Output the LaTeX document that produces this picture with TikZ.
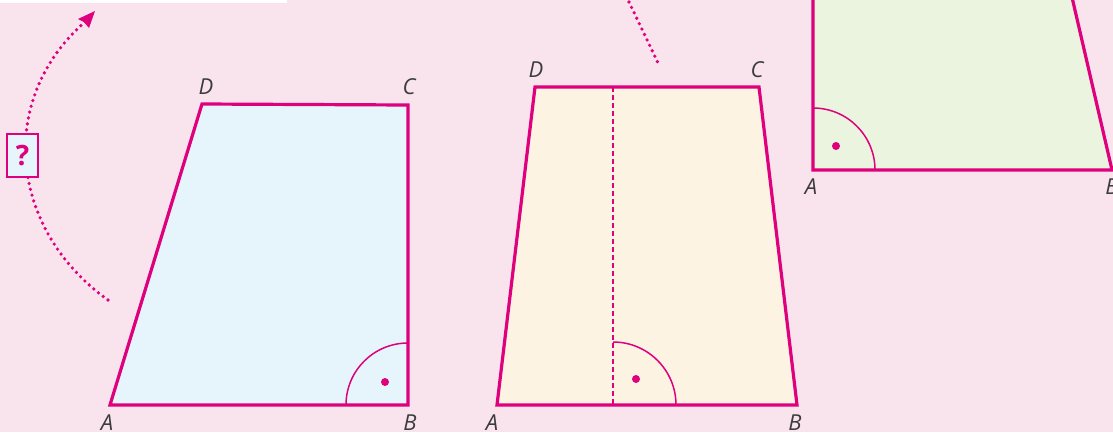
\documentclass[tikz,border=0pt]{standalone}
\usepackage{fontspec}
\setsansfont{Open Sans}
\usetikzlibrary{arrows.meta}
\definecolor{bgpink}{RGB}{249,228,238}
\definecolor{mag}{RGB}{222,0,124}
\definecolor{fblue}{RGB}{230,245,252}
\definecolor{fcream}{RGB}{253,243,227}
\definecolor{fgreen}{RGB}{234,244,223}
\definecolor{labgray}{RGB}{60,60,60}
\tikzset{
  edge/.style={draw=mag, line width=3.2pt, line join=miter},
  anglearc/.style={draw=mag, line width=1.5pt},
  angdot/.style={circle, fill=mag, inner sep=0pt, minimum size=8pt},
  lab/.style={font=\sffamily\itshape\fontsize{22}{24}\selectfont, text=labgray, inner sep=0pt},
  dotline/.style={draw=mag, line width=3.6pt, line cap=round, dash pattern=on 0pt off 6pt},
}
\begin{document}
\begin{tikzpicture}[x=1pt,y=-1pt]
\useasboundingbox (0,0) rectangle (1113,432);
\clip (0,0) rectangle (1113,432);
\fill[bgpink] (0,0) rectangle (1113,432);
\fill[white] (0,0) rectangle (287,2.5);

% shape 1
\coordinate (A1) at (110,405);
\coordinate (B1) at (408,405);
\coordinate (C1) at (408,105);
\coordinate (D1) at (202,104);
\fill[fblue] (A1) -- (B1) -- (C1) -- (D1) -- cycle;
\draw[anglearc] (346,405) arc[start angle=180, end angle=270, radius=62];
\node[angdot] (d1) at (385,382) {};
\draw[edge] (A1) -- (B1) -- (C1) -- (D1) -- cycle;
\node[lab] (lA1) at (107,423) {A};
\node[lab] (lB1) at (410,423) {B};
\node[lab] (lC1) at (409,87) {C};
\node[lab] (lD1) at (206,87) {D};

% dotted curved arrow with ?
\coordinate (s1) at (108,300);
\coordinate (e1) at (95,11);
\draw[dotline] (s1) .. controls (10,230) and (-5,100) .. (86,21);
\fill[mag] (e1) -- (78,19) -- (84,22) -- (89,28) -- cycle;
\node[draw=mag, line width=1.2pt, fill=fblue, minimum width=31pt, minimum height=43pt, inner sep=0pt,
      font=\sffamily\bfseries\fontsize{28}{30}\selectfont, text=mag] (q) at (22.5,155.5) {?};

% shape 2
\coordinate (A2) at (497,405);
\coordinate (B2) at (797,405);
\coordinate (C2) at (759,87);
\coordinate (D2) at (535,87);
\coordinate (M2t) at (613,87);
\coordinate (M2b) at (613,405);
\fill[fcream] (A2) -- (B2) -- (C2) -- (D2) -- cycle;
\draw[draw=mag, line width=1.5pt, dash pattern=on 5pt off 3pt] (M2t) -- (M2b);
\draw[anglearc] (676,405) arc[start angle=0, end angle=-90, radius=63];
\node[angdot] (d2) at (636,379) {};
\draw[edge] (A2) -- (B2) -- (C2) -- (D2) -- cycle;
\node[lab] (lA2) at (492,423) {A};
\node[lab] (lB2) at (795,423) {B};
\node[lab] (lC2) at (757,70) {C};
\node[lab] (lD2) at (536,70) {D};

% dotted line top
\coordinate (t1) at (629,2);
\coordinate (t2) at (659,65);
\draw[dotline] (t1) -- (t2);

% shape 3
\coordinate (A3) at (813,170);
\coordinate (B3) at (1112,170);
\coordinate (C3) at (1068,-20);
\coordinate (D3) at (813,-20);
\fill[fgreen] (A3) -- (B3) -- (C3) -- (D3) -- cycle;
\draw[anglearc] (875,170) arc[start angle=0, end angle=-90, radius=62];
\node[angdot] (d3) at (836,146) {};
\draw[edge] (D3) -- (A3) -- (B3) -- (C3);
\node[lab] (lA3) at (811,187) {A};
\node[lab] (lB3) at (1112,187) {B};
\end{tikzpicture}
\end{document}
